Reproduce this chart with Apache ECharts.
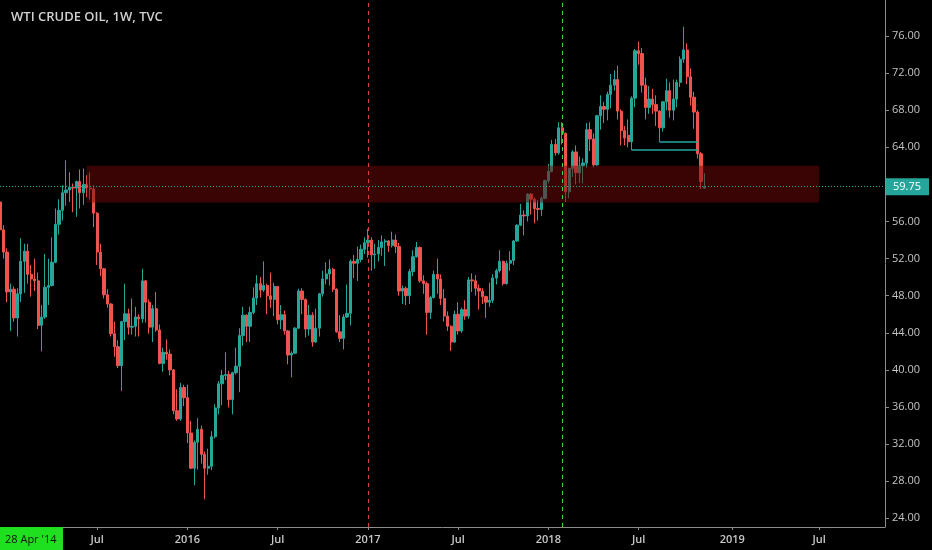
<!DOCTYPE html>
<html>
<head>
<meta charset="utf-8">
<title>WTI CRUDE OIL, 1W, TVC</title>
<script src="https://cdn.jsdelivr.net/npm/echarts@6/dist/echarts.min.js"></script>
<style>
  html, body { margin: 0; padding: 0; background: #000; }
  #chart { width: 932px; height: 550px; }
</style>
</head>
<body>
<div id="chart"></div>
<script>
// weekly bars, first bar starts on this Monday
const firstWeek = '2014-12-22';
const totalWeeks = 256; // incl. empty space on the right

// [open, high, low, close] per week
const ohlc = [
  [58.1, 58.6, 54.5, 55.1], [55.1, 55.6, 52.0, 52.7], [52.7, 53.1, 47.3, 48.4], [48.4, 49.3, 44.2, 48.7],
  [48.7, 49.0, 45.2, 45.6], [45.6, 48.8, 43.6, 48.2], [48.2, 54.2, 47.3, 51.7], [51.7, 53.6, 48.3, 52.8],
  [52.8, 53.6, 49.3, 50.3], [50.3, 51.3, 47.9, 49.8], [49.8, 52.0, 48.5, 49.6], [49.6, 50.5, 44.4, 44.8],
  [44.8, 47.0, 42.0, 45.7], [45.7, 52.5, 45.5, 48.9], [48.9, 52.0, 47.0, 49.1], [49.1, 54.3, 49.0, 51.6],
  [51.6, 57.4, 51.5, 55.7], [55.7, 58.4, 54.6, 57.2], [57.2, 59.9, 56.1, 59.1], [59.1, 62.6, 57.7, 59.4],
  [59.4, 61.3, 58.1, 59.7], [59.7, 60.1, 57.0, 59.6], [59.6, 60.4, 56.5, 60.3], [60.3, 61.6, 57.4, 59.1],
  [59.1, 61.7, 57.8, 60.0], [60.0, 61.0, 58.6, 59.6], [59.6, 61.3, 58.4, 59.5], [59.5, 59.9, 55.4, 56.9],
  [56.9, 57.0, 51.3, 52.7], [52.7, 53.6, 50.1, 50.9], [50.9, 51.0, 47.7, 48.1], [48.1, 48.7, 46.7, 47.1],
  [47.1, 47.2, 43.6, 43.9], [43.9, 45.2, 41.4, 42.5], [42.5, 43.2, 40.2, 40.45], [40.45, 45.3, 37.75, 45.2],
  [45.2, 49.3, 43.2, 46.05], [46.05, 46.6, 43.8, 44.6], [44.6, 47.7, 43.8, 44.7], [44.7, 46.8, 43.6, 45.7],
  [45.7, 46.0, 43.6, 45.5], [45.5, 50.9, 45.1, 49.6], [49.6, 49.7, 45.1, 47.3], [47.3, 47.6, 43.9, 44.6],
  [44.6, 47.0, 43.0, 46.6], [46.6, 48.4, 44.1, 44.3], [44.3, 44.9, 40.6, 40.7], [40.7, 42.4, 39.8, 41.9],
  [41.9, 43.3, 41.1, 41.7], [41.7, 42.2, 39.4, 40.0], [40.0, 40.1, 35.2, 35.6], [35.6, 37.9, 34.5, 34.7],
  [34.7, 38.6, 34.5, 38.1], [38.1, 38.4, 36.1, 37.0],
  // 2016
  [37.0, 38.4, 32.1, 33.2], [33.2, 34.5, 29.3, 29.4], [29.4, 32.4, 27.56, 32.2], [32.2, 34.8, 29.25, 33.6],
  [33.6, 34.0, 29.9, 30.9], [30.9, 31.2, 26.05, 29.4], [29.4, 31.5, 28.7, 29.6], [29.6, 33.4, 29.2, 32.8],
  [32.8, 36.3, 32.6, 35.9], [35.9, 38.8, 35.2, 38.5], [38.5, 40.0, 36.2, 39.4], [39.4, 41.9, 38.9, 39.5],
  [39.5, 39.9, 35.95, 36.8], [36.8, 39.8, 35.2, 39.7], [39.7, 42.4, 39.5, 40.4], [40.4, 44.5, 37.6, 43.7],
  [43.7, 46.8, 42.6, 45.9], [45.9, 46.0, 43.0, 44.7], [44.7, 46.8, 43.0, 46.2], [46.2, 48.9, 46.0, 47.75],
  [47.75, 50.2, 47.0, 49.3], [49.3, 50.0, 47.8, 48.6], [48.6, 51.7, 48.4, 49.1], [49.1, 49.3, 46.0, 47.98],
  [47.98, 50.5, 46.7, 47.6], [47.6, 49.4, 45.8, 49.0], [49.0, 49.0, 44.9, 45.4], [45.4, 47.0, 44.4, 45.95],
  [45.95, 46.4, 43.8, 44.2], [44.2, 44.3, 40.6, 41.6], [41.6, 42.0, 39.2, 41.8], [41.8, 44.6, 41.7, 44.5],
  [44.5, 48.75, 44.4, 48.5], [48.5, 48.8, 46.0, 47.6], [47.6, 47.7, 43.5, 44.4], [44.4, 47.0, 43.7, 45.9],
  [45.9, 46.2, 42.5, 43.0], [43.0, 46.6, 42.9, 44.5], [44.5, 48.3, 43.6, 48.2], [48.2, 50.7, 47.9, 49.8],
  [49.8, 51.6, 49.2, 50.35], [50.35, 51.9, 49.1, 50.85], [50.85, 51.0, 48.4, 48.7], [48.7, 48.8, 44.0, 44.1],
  [44.1, 45.9, 43.0, 43.4], [43.4, 46.0, 42.2, 45.7], [45.7, 49.2, 45.6, 46.1], [46.1, 51.9, 44.8, 51.7],
  [51.7, 52.4, 49.9, 51.5], [51.5, 53.3, 49.6, 51.9], [51.9, 53.5, 51.6, 53.0], [53.0, 54.3, 52.5, 53.7],
  // 2017
  [53.7, 55.2, 52.1, 54.0], [54.0, 54.3, 50.7, 52.4], [52.4, 53.6, 50.9, 52.5], [52.5, 54.0, 51.7, 53.2],
  [53.2, 54.5, 52.3, 53.8], [53.8, 54.1, 51.2, 53.9], [53.9, 54.0, 52.7, 53.4], [53.4, 54.9, 53.2, 54.0],
  [54.0, 54.6, 52.6, 53.3], [53.3, 53.7, 48.0, 48.5], [48.5, 49.1, 47.1, 48.8], [48.8, 49.0, 47.0, 48.0],
  [48.0, 50.9, 47.1, 50.6], [50.6, 52.9, 50.1, 52.2], [52.2, 53.8, 52.1, 53.2], [53.2, 53.3, 49.4, 49.6],
  [49.6, 50.2, 48.2, 49.3], [49.3, 49.5, 43.8, 46.2], [46.2, 48.0, 45.5, 47.8], [47.8, 50.7, 47.7, 50.3],
  [50.3, 52.0, 48.2, 49.8], [49.8, 50.3, 47.0, 47.7], [47.7, 48.7, 45.2, 45.8], [45.8, 46.3, 44.2, 44.7],
  [44.7, 44.8, 42.05, 43.0], [43.0, 46.4, 42.9, 46.0], [46.0, 47.3, 43.8, 44.2], [44.2, 46.7, 44.0, 46.5],
  [46.5, 47.5, 45.4, 45.8], [45.8, 50.0, 45.5, 49.7], [49.7, 50.4, 48.4, 49.6], [49.6, 50.2, 48.0, 48.8],
  [48.8, 49.2, 46.5, 48.5], [48.5, 48.8, 47.1, 47.9], [47.9, 48.0, 45.6, 47.3], [47.3, 49.4, 46.8, 47.5],
  [47.5, 50.3, 47.2, 49.9], [49.9, 50.9, 49.2, 50.7], [50.7, 52.9, 50.5, 51.7], [51.7, 51.8, 49.1, 49.3],
  [49.3, 51.8, 49.2, 51.5], [51.5, 52.8, 50.7, 51.8], [51.8, 54.0, 51.3, 53.9], [53.9, 55.7, 53.8, 55.6],
  [55.6, 57.9, 55.5, 56.7], [56.7, 57.2, 54.5, 56.6], [56.6, 59.05, 56.0, 58.95], [58.95, 59.05, 56.75, 58.4],
  [58.4, 58.6, 55.8, 57.4], [57.4, 58.3, 56.1, 57.3], [57.3, 58.7, 56.6, 58.5], [58.5, 60.5, 58.4, 60.4],
  // 2018
  [60.4, 62.2, 60.1, 61.4], [61.4, 64.8, 61.3, 64.3], [64.3, 64.9, 63.1, 63.4], [63.4, 66.7, 63.2, 66.1],
  [66.1, 66.7, 64.3, 65.5], [65.5, 65.6, 58.1, 59.2], [59.2, 61.8, 58.5, 61.7], [61.7, 63.7, 60.8, 63.5],
  [63.5, 64.2, 60.0, 61.25], [61.25, 63.0, 60.15, 62.0], [62.0, 62.8, 60.1, 62.3], [62.3, 66.6, 61.8, 65.9],
  [65.9, 66.7, 63.6, 64.9], [64.9, 65.5, 61.85, 62.1], [62.1, 67.5, 62.0, 67.4], [67.4, 69.6, 65.9, 68.4],
  [68.4, 68.9, 66.6, 68.1], [68.1, 70.0, 66.9, 69.7], [69.7, 71.9, 68.2, 70.7], [70.7, 72.3, 70.1, 71.3],
  [71.3, 72.8, 67.0, 67.9], [67.9, 68.1, 64.2, 65.8], [65.8, 66.3, 64.2, 65.0], [65.3, 67.0, 64.0, 64.6],
  [64.6, 69.5, 63.7, 69.3], [69.3, 74.6, 68.3, 74.4], [74.4, 75.4, 72.9, 74.1], [74.1, 74.7, 69.9, 70.7],
  [70.7, 71.5, 67.0, 68.3], [68.3, 70.6, 67.6, 69.2], [69.2, 70.3, 67.6, 68.6], [68.6, 69.6, 66.3, 67.9],
  [67.9, 68.0, 64.6, 66.1], [66.1, 69.0, 65.7, 68.9], [68.9, 71.4, 68.0, 70.1], [70.1, 71.0, 67.2, 68.0],
  [68.0, 71.3, 66.9, 69.2], [69.2, 71.3, 68.3, 71.0], [71.0, 73.8, 70.5, 73.5], [73.5, 77.0, 73.1, 74.5],
  [74.5, 75.2, 70.8, 71.6], [71.6, 72.5, 68.5, 69.4], [69.4, 70.0, 66.0, 67.8], [67.8, 68.0, 62.8, 63.3],
  [63.3, 63.5, 59.5, 60.3], [59.6, 61.2, 59.5, 59.75]
];

const priceTicks = [24, 28, 32, 36, 40, 44, 48, 52, 56, 64, 68, 72, 76];
const lastPrice = 59.75;

// drawn objects
const zoneDates = ['2015-06-15', '2019-07-01'];
const zonePrices = [62.02, 58.05];
const redLineDate = '2017-01-02';
const greenLineDate = '2018-01-29';
const supportLines = [
  { from: '2018-08-13', to: '2018-10-29', price: 64.6 },
  { from: '2018-06-18', to: '2018-10-29', price: 63.78 }
];
const cursorLabel = "28 Apr '14";

const UP = '#26a69a';
const DOWN = '#ef5350';

// build week categories
const dates = [];
const t0 = Date.parse(firstWeek + 'T00:00:00Z');
for (let i = 0; i < totalWeeks; i++) {
    dates.push(new Date(t0 + i * 7 * 86400000).toISOString().slice(0, 10));
}
// first week of Jan / Jul gets a label (the one under the cursor badge is skipped)
const labelIdx = new Set();
for (let i = 10; i < dates.length; i++) {
    const m = dates[i].slice(5, 7), pm = dates[i - 1].slice(5, 7);
    if (m !== pm && (m === '01' || m === '07')) labelIdx.add(i);
}

const candleData = ohlc.map(d => [d[0], d[3], d[2], d[1]]);

// empty helper series that only carries one vertical marker line
function vLine(date, color) {
    return {
        type: 'line',
        data: [],
        silent: true,
        markLine: {
            silent: true,
            symbol: ['none', 'none'],
            label: { show: false },
            lineStyle: { color: color, type: [4, 4], width: 1, opacity: 1 },
            data: [{ xAxis: date }]
        }
    };
}

const chart = echarts.init(document.getElementById('chart'));
const option = {
    backgroundColor: '#000',
    animation: false,
    title: {
        text: 'WTI CRUDE OIL, 1W, TVC',
        left: 6,
        top: 6,
        textStyle: { color: '#d0d0d0', fontSize: 13, fontWeight: 600, fontFamily: 'Open Sans' }
    },
    grid: { left: 0, right: 47, top: 0, bottom: 23, containLabel: false, outerBoundsMode: 'none' },
    xAxis: {
        type: 'category',
        data: dates,
        boundaryGap: false,
        axisLine: { lineStyle: { color: '#8c8c8c' } },
        axisTick: { interval: (i) => labelIdx.has(i), length: 3, lineStyle: { color: '#8c8c8c' } },
        axisLabel: {
            interval: (i) => labelIdx.has(i),
            formatter: (v) => v.slice(5, 7) === '07' ? 'Jul' : v.slice(0, 4),
            color: '#c8c8c8',
            fontSize: 11,
            fontWeight: 600,
            fontFamily: 'Open Sans',
            margin: 7
        },
        splitLine: { show: false }
    },
    yAxis: {
        type: 'value',
        position: 'right',
        min: 23.06,
        max: 79.88,
        axisLine: { show: true, lineStyle: { color: '#8c8c8c' } },
        axisTick: { show: true, customValues: priceTicks, length: 4, lineStyle: { color: '#8c8c8c' } },
        axisLabel: {
            customValues: priceTicks,
            formatter: (v) => v.toFixed(2),
            color: '#c4c4c4',
            fontSize: 11,
            fontFamily: 'Open Sans',
            margin: 7
        },
        splitLine: { show: false }
    },
    series: [{
        type: 'candlestick',
        data: candleData,
        barWidth: 2.8,
        itemStyle: {
            color: UP, color0: DOWN,
            borderColor: UP, borderColor0: DOWN,
            borderWidth: 1
        },
        markArea: {
            z: 3,
            silent: true,
            itemStyle: { color: 'rgba(115, 8, 8, 0.5)' },
            data: [[
                { xAxis: zoneDates[0], yAxis: zonePrices[0] },
                { xAxis: zoneDates[1], yAxis: zonePrices[1] }
            ]]
        },
        markLine: {
            silent: true,
            symbol: ['none', 'none'],
            label: { show: false },
            data: [
                {
                    yAxis: lastPrice,
                    lineStyle: { color: UP, type: [1, 2], width: 1 },
                    label: {
                        show: true,
                        position: 'end',
                        distance: 1,
                        formatter: lastPrice.toFixed(2),
                        color: '#fff',
                        backgroundColor: UP,
                        padding: [3, 8, 3, 7],
                        fontSize: 11,
                        fontFamily: 'Open Sans'
                    }
                }
            ].concat(supportLines.map(s => [
                { coord: [s.from, s.price], lineStyle: { color: UP, type: 'solid', width: 1.5 } },
                { coord: [s.to, s.price] }
            ]))
        }
    },
    vLine(redLineDate, '#e23b3b'),
    vLine(greenLineDate, '#3ad83a')],
    graphic: [
        { type: 'rect', left: 0, bottom: 0, z: 100, shape: { width: 63, height: 23 }, style: { fill: '#1fe01f' } },
        {
            type: 'text', left: 5, bottom: 5, z: 101,
            style: { text: cursorLabel, fill: '#111', fontSize: 11, fontFamily: 'Open Sans' }
        }
    ]
};
chart.setOption(option);
</script>
</body>
</html>
